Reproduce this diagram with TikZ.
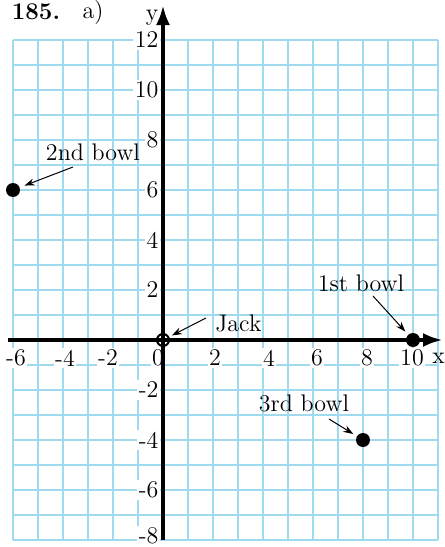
\documentclass[tikz,border=0pt]{standalone}
\usetikzlibrary{arrows.meta}
\definecolor{gridblue}{RGB}{160,218,238}
\begin{document}
\begin{tikzpicture}[x=12.5pt,y=12.5pt,
  font=\fontsize{12}{14}\selectfont,
  gridline/.style={draw=gridblue,line width=0.75pt},
  axisline/.style={line width=2pt,-{Latex[length=10pt,width=7pt]}},
  ticklabel/.style={fill=white,inner sep=0.8pt},
  bowl/.style={circle,fill=black,inner sep=0pt,minimum size=7pt},
  pointer/.style={line width=0.5pt,-{Stealth[length=5pt,width=3.5pt]}},
  caption/.style={inner sep=0pt}]
\useasboundingbox (-6.52,-8.28) rectangle (11.28,13.6);
% grid
\foreach \i in {-6,...,11} \draw[gridline] (\i,-8) -- (\i,12);
\foreach \j in {-8,...,12} \draw[gridline] (-6,\j) -- (11,\j);
% tick labels
\foreach \x/\px in {-6/-5.88,-4/-3.92,-2/-2.2,0/-0.2,2/2.08,4/4.24,6/6.16,8/8.16,10/9.96}
  \node[ticklabel] (xl\x) at (\px,-0.72) {\x};
\foreach \y in {-6,-4,-2,2,4,6,8,10,12}
  \node[ticklabel,anchor=east] (yl\y) at (-0.1,\y) {\y};
\node[ticklabel,anchor=south east] (yl-8) at (-0.1,-8.26) {-8};
% axes
\draw[axisline] (0,-8) -- (0,13.4);
\draw[axisline] (-6.2,0) -- (11.2,0);
\node[caption] (ylab) at (-0.44,12.9) {y};
\node[caption] (xlab) at (11.02,-0.72) {x};
% title
\node[caption,font=\fontsize{12}{14}\selectfont\bfseries] (num) at (-5.08,13.12) {185.};
\node[caption] (part) at (-2.8,13.08) {a)};
% points
\node[bowl] (b1) at (10,0) {};
\node[bowl] (b2) at (-6,6) {};
\node[bowl] (b3) at (8,-4) {};
\node[circle,draw=black,line width=1pt,minimum size=6pt,inner sep=0pt] (jack) at (0,0) {};
% labels
\node[caption] (t2) at (-2.8,7.52) {2nd bowl};
\node[caption] (t1) at (7.92,2.28) {1st bowl};
\node[caption] (t3) at (5.64,-2.52) {3rd bowl};
\node[caption,anchor=west] (tj) at (2.08,0.68) {Jack};
\coordinate (s2) at (-3.6,6.92);
\coordinate (s1) at (8.4,1.76);
\coordinate (s3) at (6.64,-3.16);
\coordinate (sj) at (1.72,0.88);
\draw[pointer,shorten >=2.5pt] (s2) -- (b2);
\draw[pointer,shorten >=2pt] (s1) -- (b1);
\draw[pointer,shorten >=2pt] (s3) -- (b3);
\draw[pointer,shorten >=1.5pt] (sj) -- (jack);
\end{tikzpicture}
\end{document}
